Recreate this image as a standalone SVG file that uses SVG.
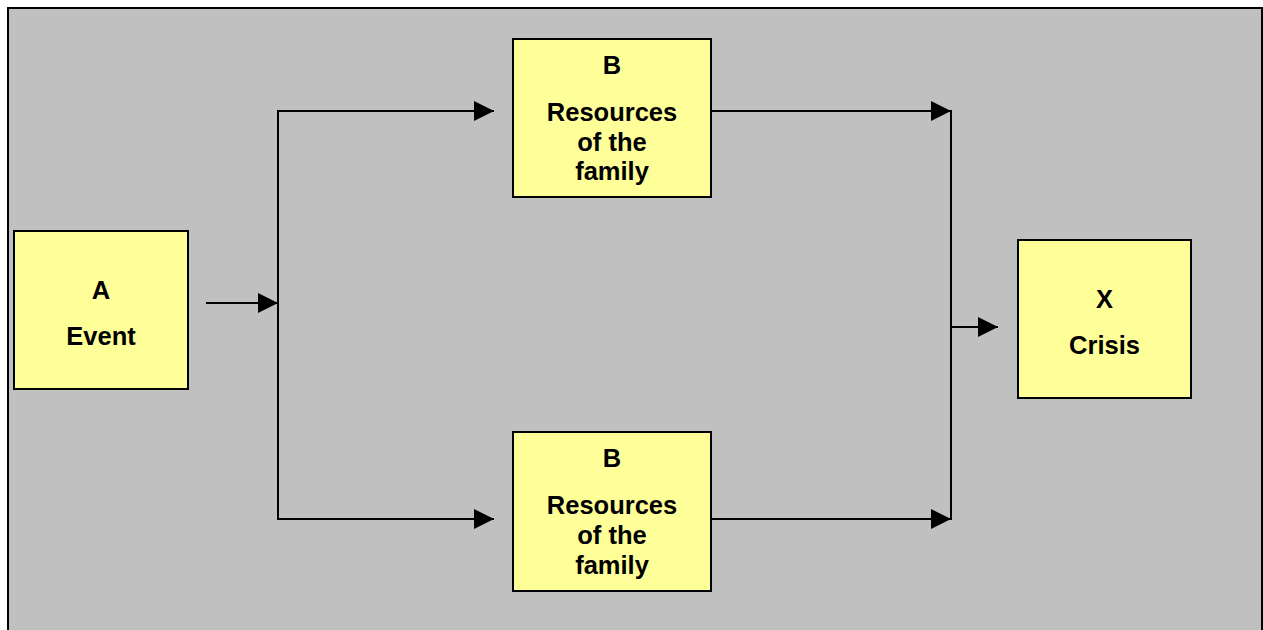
<svg xmlns="http://www.w3.org/2000/svg" width="1263" height="630" viewBox="0 0 1263 630">
<style>
.bg{fill:#ffffff}
.frame{fill:#c0c0c0;stroke:#000;stroke-width:2}
.box{fill:#ffff99;stroke:#000;stroke-width:2}
.ln{fill:none;stroke:#000;stroke-width:2}
text{font-family:"Liberation Sans",Arial,sans-serif;font-weight:bold;font-size:25.5px;fill:#000;text-anchor:middle}
</style>
<defs>
<marker id="ah" markerWidth="20" markerHeight="20" refX="20" refY="10" orient="auto" markerUnits="userSpaceOnUse">
<path d="M0,0 L20,10 L0,20 Z" fill="#000"/>
</marker>
</defs>
<rect class="bg" x="0" y="0" width="1263" height="630"/>
<rect class="frame" x="8" y="8" width="1254" height="640"/>
<g id="connectors">
<line class="ln" x1="206" y1="303" x2="278" y2="303" marker-end="url(#ah)"/>
<polyline class="ln" points="494,111 278,111 278,519 494,519"/>
<line class="ln" x1="278" y1="111" x2="494" y2="111" marker-end="url(#ah)"/>
<line class="ln" x1="278" y1="519" x2="494" y2="519" marker-end="url(#ah)"/>
<line class="ln" x1="711" y1="111" x2="951" y2="111" marker-end="url(#ah)"/>
<line class="ln" x1="711" y1="519" x2="951" y2="519" marker-end="url(#ah)"/>
<line class="ln" x1="951" y1="110" x2="951" y2="520"/>
<line class="ln" x1="951" y1="327" x2="998" y2="327" marker-end="url(#ah)"/>
</g>
<g id="nodeA">
<rect class="box" x="14" y="231" width="174" height="158"/>
<text x="101" y="299">A</text>
<text x="101" y="345">Event</text>
</g>
<g id="nodeB1">
<rect class="box" x="513" y="39" width="198" height="158"/>
<text x="612" y="74">B</text>
<text x="612" y="121">Resources</text>
<text x="612" y="151">of the</text>
<text x="612" y="180">family</text>
</g>
<g id="nodeB2">
<rect class="box" x="513" y="432" width="198" height="159"/>
<text x="612" y="467">B</text>
<text x="612" y="514">Resources</text>
<text x="612" y="544">of the</text>
<text x="612" y="574">family</text>
</g>
<g id="nodeX">
<rect class="box" x="1018" y="240" width="173" height="158"/>
<text x="1104.5" y="308">X</text>
<text x="1104.5" y="354">Crisis</text>
</g>
</svg>
